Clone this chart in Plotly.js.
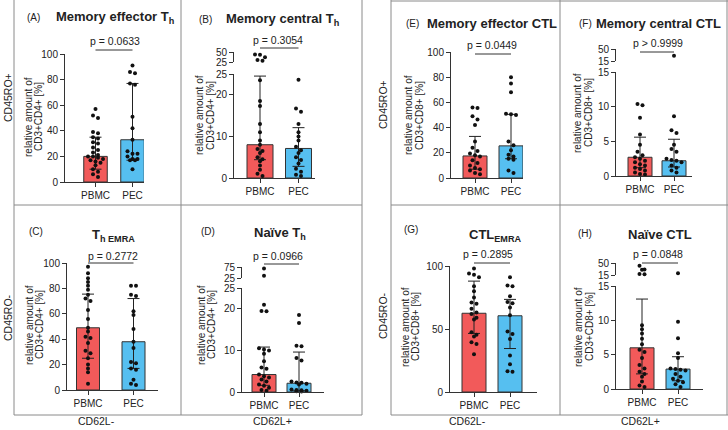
<!DOCTYPE html>
<html>
<head>
<meta charset="utf-8">
<script src="https://cdn.plot.ly/plotly-3.0.1.min.js"></script>
<style>html,body{margin:0;padding:0;background:#fff}#chart{width:728px;height:430px}</style>
</head>
<body>
<div id="chart"></div>
<script>
var groups = ['PBMC', 'PEC'];

// (A) memory effector Th
var aPBMC = [57, 52, 50, 39, 38, 35, 34, 31, 30, 27, 25, 23, 21, 20, 20, 19, 18, 17, 16, 15, 13, 10, 8, 6, 4];
var aPEC = [91, 86, 85, 77, 76, 51, 42, 33, 24, 22, 22, 20, 18, 18, 17, 17, 10];
var aMed = [20, 33], aQ1 = [10, 17], aQ3 = [35, 77];

// (B) memory central Th
var bPBMC = [44, 43, 37, 30, 28, 23.5, 18.5, 17.3, 13, 11, 9, 8, 7, 6.5, 6, 5, 4.5, 4, 3, 2, 1, 0.5];
var bPEC = [23.6, 16.7, 15.9, 13, 11, 10, 9, 7.5, 6.7, 6, 5, 4.3, 3.5, 2.2, 1.5, 0.8, 0.5];
var bMed = [8, 7.1], bQ1 = [4.4, 2.8], bQ3 = [24.5, 12.1];

// (C) Th EMRA
var cPBMC = [97, 92, 88, 85, 82, 79, 75, 72, 70, 63, 56, 49, 46, 42, 41, 37, 31, 29, 25, 20, 17, 14, 5];
var cPEC = [82, 82, 75, 74, 62, 59, 48, 38, 33, 22, 21, 17, 16, 8, 5, 4];
var cMed = [49, 38], cQ1 = [25, 17], cQ3 = [75.5, 72];

// (D) naive Th
var dPBMC = [68, 35, 21, 19.5, 19.4, 10.5, 10.2, 10, 9.2, 7.4, 5.9, 5.6, 4.2, 3.8, 3.5, 3, 2.5, 1.8, 1.5, 1, 0.5, 0.3];
var dPEC = [18.5, 16.6, 11.1, 11, 8.2, 7.6, 2.5, 2.3, 2.2, 2, 1.8, 0.6, 0.5, 0.4, 0.3, 0.2, 0.1];
var dMed = [4.2, 2.1], dQ1 = [1.6, 0.3], dQ3 = [10.8, 9.6];

// (E) memory effector CTL
var ePBMC = [56, 55.5, 49, 46.5, 42, 29, 24, 21.5, 19.5, 18, 17, 14, 12, 10, 8, 7, 6, 4, 3];
var ePEC = [80, 75, 68, 51, 50.5, 50, 29, 26, 22, 18.5, 17, 15.3, 14.5, 6, 4];
var eMed = [17.5, 25.5], eQ1 = [7, 15.3], eQ3 = [33, 50.5];

// (F) memory central CTL
var fPBMC = [10.4, 10.2, 8.4, 6, 4.5, 3.5, 3, 2.7, 2.5, 2.2, 2, 1.7, 1.5, 1.2, 1, 0.8, 0.5, 0.3, 0.2];
var fPEC = [30, 8.6, 6.6, 6.2, 4.5, 3.9, 3.5, 2.5, 2.3, 2.2, 2, 1.5, 1.2, 0.8, 0.5];
var fMed = [2.7, 2.2], fQ1 = [1.2, 1.3], fQ3 = [5.6, 5.3];

// (G) CTL EMRA
var gPBMC = [98, 94, 93, 91, 84, 80, 75, 71, 70, 66, 63, 62, 59, 57.5, 47.5, 45.5, 44, 39.5, 38, 30];
var gPEC = [91, 84.5, 84, 76, 71.5, 70.5, 67, 61, 48, 46, 42, 29, 22, 16.5, 16];
var gMed = [62.5, 60.5], gQ1 = [46.5, 34.5], gQ3 = [88, 73.5];

// (H) naive CTL
var hPBMC = [42, 31, 30, 18, 17, 9.3, 8.7, 8.1, 7.3, 6.5, 5.7, 5.4, 4.5, 3.5, 3, 2.5, 2.2, 1.8, 1.1, 0.5, 0.3];
var hPEC = [20, 9.8, 7.4, 5.2, 4.5, 3, 2.9, 2.8, 2.7, 2.2, 1.8, 1.5, 1.2, 1, 0.7, 0.3];
var hMed = [6, 2.9], hQ1 = [2.2, 1.2], hQ3 = [13.1, 4.7];

var W = 728, H = 430;
var red = '#F25A5A', blue = '#56BFF0';
var font = 'Liberation Sans, Arial, sans-serif';

// panel placement in pixels
var panels = [
	{letter: '(A)', title: 'Memory effector T<sub>h</sub>', p: 'p = 0.0633', cd: 'CD3+CD4+',
	 vals: [aPBMC, aPEC], med: aMed, q1: aQ1, q3: aQ3,
	 ax: [65, 144], c: [95.5, 132.5], bw: 23.5, y0: 182, yTop: 54, top: 100, ticks: [0, 20, 40, 60, 80, 100],
	 lab: [33, 17], tit: [115, 17], pt: [115, 41], pl: 50, yt: [28, 38, 117]},
	{letter: '(B)', title: 'Memory central T<sub>h</sub>', p: 'p = 0.3054', cd: 'CD3+CD4+',
	 vals: [bPBMC, bPEC], med: bMed, q1: bQ1, q3: bQ3,
	 ax: [234, 315], c: [260, 298.5], bw: 26, y0: 178, yTop: 74, top: 25, ticks: [0, 10, 20, 25],
	 brk: {lo: 25, hi: 50, y0: 62, yTop: 52},
	 lab: [205, 20], tit: [282, 20], pt: [278, 40], pl: 48, yt: [199, 210, 115]},
	{letter: '(C)', title: 'T<sub>h EMRA</sub>', p: 'p = 0.2772', cd: 'CD3+CD4+',
	 vals: [cPBMC, cPEC], med: cMed, q1: cQ1, q3: cQ3,
	 ax: [67, 158], c: [88, 133.5], bw: 23, y0: 390, yTop: 263, top: 100, ticks: [0, 20, 40, 60, 80, 100],
	 lab: [36, 231], tit: [113, 235], pt: [113, 256], pl: 263, yt: [29, 39, 325]},
	{letter: '(D)', title: 'Naïve T<sub>h</sub>', p: 'p = 0.0966', cd: 'CD3+CD4+',
	 vals: [dPBMC, dPEC], med: dMed, q1: dQ1, q3: dQ3,
	 ax: [242, 324], c: [264, 299], bw: 24, y0: 392, yTop: 288, top: 25, ticks: [0, 10, 20, 25],
	 brk: {lo: 25, hi: 75, y0: 278, yTop: 267},
	 lab: [208, 231], tit: [280, 233], pt: [278, 256], pl: 264, yt: [201, 211, 325]},
	{letter: '(E)', title: 'Memory effector CTL', p: 'p = 0.0449', cd: 'CD3+CD8+',
	 vals: [ePBMC, ePEC], med: eMed, q1: eQ1, q3: eQ3,
	 ax: [451, 523], c: [475, 511], bw: 24, y0: 178, yTop: 52, top: 100, ticks: [0, 20, 40, 60, 80, 100],
	 lab: [412, 23], tit: [492, 23], pt: [492, 45], pl: 54, yt: [408, 419, 115]},
	{letter: '(F)', title: 'Memory central CTL', p: 'p > 0.9999', cd: 'CD3+CD8+',
	 vals: [fPBMC, fPEC], med: fMed, q1: fQ1, q3: fQ3,
	 ax: [616, 692], c: [640, 674], bw: 24, y0: 176, yTop: 72, top: 15, ticks: [0, 5, 10, 15],
	 brk: {lo: 15, hi: 50, y0: 61, yTop: 49},
	 lab: [585, 23], tit: [658, 23], pt: [658, 43], pl: 52, yt: [578, 589, 113]},
	{letter: '(G)', title: 'CTL<sub>EMRA</sub>', p: 'p = 0.2895', cd: 'CD3+CD8+',
	 vals: [gPBMC, gPEC], med: gMed, q1: gQ1, q3: gQ3,
	 ax: [450, 537], c: [474, 510], bw: 24, y0: 392, yTop: 266, top: 100, ticks: [0, 50, 100],
	 lab: [411, 229], tit: [495, 235], pt: [488, 254], pl: 263, yt: [405, 415, 327]},
	{letter: '(H)', title: 'Naïve CTL', p: 'p = 0.0848', cd: 'CD3+CD8+',
	 vals: [hPBMC, hPEC], med: hMed, q1: hQ1, q3: hQ3,
	 ax: [616, 703], c: [642, 678], bw: 24, y0: 389, yTop: 286, top: 15, ticks: [0, 5, 10, 15],
	 brk: {lo: 15, hi: 50, y0: 275, yTop: 263},
	 lab: [585, 233], tit: [660, 234], pt: [658, 254], pl: 263, yt: [578, 589, 327]}
];

function px(x) { return x / W; }
function py(y) { return 1 - y / H; }

function note(text, x, y, size, angle) {
	return {
		text: text, x: px(x), y: py(y), xref: 'paper', yref: 'paper',
		showarrow: false, xanchor: 'center', yanchor: 'middle', textangle: angle || 0,
		font: {family: font, size: size, color: '#222'}
	};
}

// Prism-like dot spreading: points at about the same height are put side by side
function spread(vals, yPix, pxPerX) {
	var idx = vals.map(function(v, i) { return i; });
	idx.sort(function(a, b) { return yPix(vals[a]) - yPix(vals[b]); });
	var off = [];
	var row = [];
	function flush() {
		var n = row.length;
		row.forEach(function(k, j) { off[k] = (j - (n - 1) / 2) * 5 / pxPerX; });
		row = [];
	}
	idx.forEach(function(k) {
		if (row.length && (yPix(vals[k]) - yPix(vals[row[0]]) > 3.8 || row.length >= 4)) flush();
		row.push(k);
	});
	flush();
	return off;
}

var axStyle = {
	showline: true, linecolor: '#333', linewidth: 1, ticks: 'outside', ticklen: 4, tickwidth: 1,
	tickcolor: '#333', tickfont: {family: font, size: 10, color: '#222'},
	showgrid: false, zeroline: false, fixedrange: true
};

var data = [];
var layout = {
	width: W, height: H, margin: {l: 0, r: 0, t: 0, b: 0},
	paper_bgcolor: '#fff', plot_bgcolor: 'rgba(0,0,0,0)',
	showlegend: false, annotations: [], shapes: []
};

var upperId = 9;
panels.forEach(function(p, i) {
	var id = i === 0 ? '' : (i + 1);
	var s = p.c[1] - p.c[0];
	layout['xaxis' + id] = Object.assign({}, axStyle, {
		domain: [px(p.ax[0]), px(p.ax[1])],
		range: [(p.ax[0] - p.c[0]) / s, (p.ax[1] - p.c[0]) / s],
		anchor: 'y' + id, tickvals: [0, 1], ticktext: groups
	});
	layout['yaxis' + id] = Object.assign({}, axStyle, {
		domain: [py(p.y0), py(p.yTop)], range: [0, p.top],
		anchor: 'x' + id, tickvals: p.ticks
	});
	var uid = null;
	if (p.brk) {
		uid = upperId++;
		layout['yaxis' + uid] = Object.assign({}, axStyle, {
			domain: [py(p.brk.y0), py(p.brk.yTop)], range: [p.brk.lo, p.brk.hi],
			anchor: 'x' + id, tickvals: [p.brk.lo, p.brk.hi]
		});
	}

	data.push({
		type: 'bar', x: [0, 1], y: p.med, width: p.bw / s,
		xaxis: 'x' + id, yaxis: 'y' + id,
		marker: {color: [red, blue], line: {color: '#333', width: 1}},
		error_y: {
			type: 'data', symmetric: false,
			array: p.med.map(function(m, g) { return p.q3[g] - m; }),
			arrayminus: p.med.map(function(m, g) { return m - p.q1[g]; }),
			color: '#222', thickness: 1, width: 6
		},
		hoverinfo: 'skip'
	});

	function yPix(v) {
		if (p.brk && v > p.brk.lo) {
			return p.brk.y0 - (v - p.brk.lo) / (p.brk.hi - p.brk.lo) * (p.brk.y0 - p.brk.yTop);
		}
		return p.y0 - v / p.top * (p.y0 - p.yTop);
	}

	p.vals.forEach(function(vals, g) {
		var off = spread(vals, yPix, s);
		var lo = {x: [], y: []}, hi = {x: [], y: []};
		vals.forEach(function(v, k) {
			var t = (p.brk && v > p.brk.lo) ? hi : lo;
			t.x.push(g + off[k]);
			t.y.push(v);
		});
		data.push({type: 'scatter', mode: 'markers', x: lo.x, y: lo.y, xaxis: 'x' + id, yaxis: 'y' + id,
			marker: {size: 4, color: '#111'}, cliponaxis: false, hoverinfo: 'skip'});
		if (hi.x.length) {
			data.push({type: 'scatter', mode: 'markers', x: hi.x, y: hi.y, xaxis: 'x' + id, yaxis: 'y' + uid,
				marker: {size: 4, color: '#111'}, cliponaxis: false, hoverinfo: 'skip'});
		}
	});

	layout.annotations.push(note(p.letter, p.lab[0], p.lab[1], 10));
	layout.annotations.push(note('<b>' + p.title + '</b>', p.tit[0], p.tit[1], 13));
	layout.annotations.push(note(p.p, p.pt[0], p.pt[1], 10.5));
	layout.annotations.push(note('relative amount of', p.yt[0], p.yt[2], 10, -90));
	layout.annotations.push(note(p.cd + ' [%]', p.yt[1], p.yt[2], 10, -90));
	layout.shapes.push({type: 'line', xref: 'x' + id, yref: 'paper', x0: 0, x1: 1,
		y0: py(p.pl), y1: py(p.pl), line: {color: '#333', width: 1}});
});

// group labels
layout.annotations.push(note('CD45RO+', 8, 98, 10.5, -90));
layout.annotations.push(note('CD45RO-', 8, 318, 10.5, -90));
layout.annotations.push(note('CD45RO+', 383, 105, 10.5, -90));
layout.annotations.push(note('CD45RO-', 383, 316, 10.5, -90));
layout.annotations.push(note('CD62L-', 96, 421, 10.5));
layout.annotations.push(note('CD62L+', 272, 421, 10.5));
layout.annotations.push(note('CD62L-', 467, 421, 10.5));
layout.annotations.push(note('CD62L+', 640, 421, 10.5));

// frame lines round the two groups
var frame = [
	[14, 0, 14, 415], [362, 0, 362, 415], [181, 0, 181, 415], [14, 205, 362, 205], [14, 415, 362, 415],
	[391, 0, 391, 415], [727, 0, 727, 415], [560, 0, 560, 415], [391, 1, 728, 1], [391, 205, 728, 205], [391, 415, 728, 415]
];
frame.forEach(function(f) {
	layout.shapes.push({type: 'line', xref: 'paper', yref: 'paper', layer: 'below',
		x0: px(f[0]), y0: py(f[1]), x1: px(f[2]), y1: py(f[3]), line: {color: '#8a8a8a', width: 1}});
});

Plotly.newPlot('chart', data, layout, {displayModeBar: false, staticPlot: true});
</script>
</body>
</html>
